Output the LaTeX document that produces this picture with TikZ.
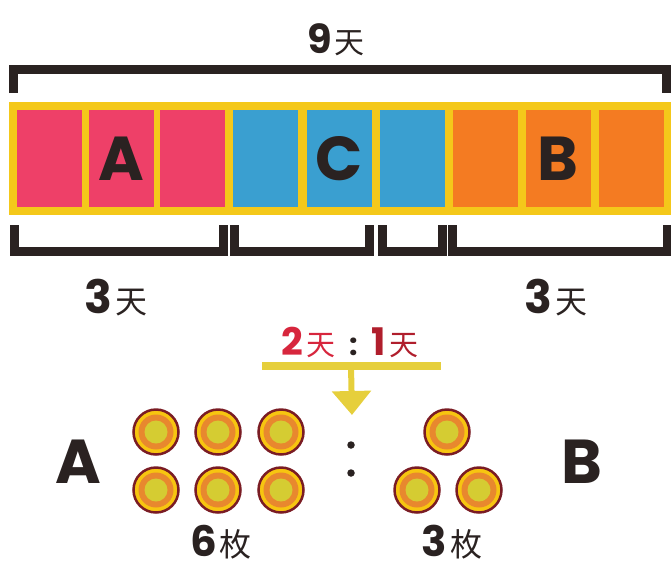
\documentclass[tikz,border=0pt]{standalone}
\usepackage{fontspec}
\usetikzlibrary{arrows.meta}
\setmainfont{Poppins}
\newfontfamily\cjk{Noto Sans CJK SC}

\definecolor{pinkcell}{HTML}{EE4068}
\definecolor{bluecell}{HTML}{3A9FD0}
\definecolor{orangecell}{HTML}{F47B22}
\definecolor{stripyellow}{HTML}{F4C81A}
\definecolor{inkdark}{HTML}{2A2221}
\definecolor{tianred}{HTML}{D7263D}
\definecolor{tiandark}{HTML}{B01E2C}
\definecolor{arrowyellow}{HTML}{E6CF3C}
\definecolor{coinbrown}{HTML}{7A1C24}
\definecolor{coinyellow}{HTML}{F7C510}
\definecolor{coinorange}{HTML}{E8882E}
\definecolor{coingreen}{HTML}{D5CC32}

\newcommand\numsz[1]{\fontsize{#1}{#1}\selectfont\bfseries}
\newcommand\cjksz[1]{\cjk\mdseries\fontsize{#1}{#1}\selectfont}

\begin{document}
\begin{tikzpicture}[x=1pt, y=-1pt,
        cell/.style={
        inner sep=0pt, minimum width=65pt, minimum height=97pt,
        font=\numsz{62}, text=inkdark},
        coin/.style={
        circle, draw=coinbrown, line width=2.5pt,
        fill=coinyellow, inner sep=0pt, minimum size=45pt,
        path picture={
          \fill[coinorange] (path picture bounding box.center) circle (17.5pt);
          \fill[coingreen] (path picture bounding box.center) circle (11.5pt);}},
        bracket/.style={draw=inkdark, line width=9pt, line join=miter},
        dot/.style={circle, fill=inkdark, inner sep=0pt, minimum size=7.5pt},
        label/.style={text=inkdark, inner sep=0pt},
        ]
        \useasboundingbox (0,0) rectangle (671,570);

        % total
        \node (total) [label] at (336,40) {\numsz{40}9\hspace{3pt}\cjksz{30}天};
        \draw[bracket] (13,93) -- (13,69.5) -- (666,69.5) -- (666,93);

        % strip of days
        \fill[stripyellow] (9,102) rectangle (671,215);
        \node (a1) [cell, fill=pinkcell]   at (49,158.5){};
        \node (a2) [cell, fill=pinkcell]   at (121,158.5){A};
        \node (a3) [cell, fill=pinkcell]   at (192,158.5){};
        \node (c1) [cell, fill=bluecell]   at (265.5,158.5){};
        \node (c2) [cell, fill=bluecell]   at (339,158.5){C};
        \node (c3) [cell, fill=bluecell]   at (412,158.5){};
        \node (b1) [cell, fill=orangecell] at (485.5,158.5){};
        \node (b2) [cell, fill=orangecell] at (558,158.5){B};
        \node (b3) [cell, fill=orangecell] at (631,158.5){};

        % parts
        \draw[bracket] (14,225) -- (14,251.5) -- (223,251.5) -- (223,225);
        \draw[bracket] (234,225) -- (234,251.5) -- (369,251.5) -- (369,225);
        \draw[bracket] (382,225) -- (382,251.5) -- (442,251.5) -- (442,225);
        \draw[bracket] (452,225) -- (452,251.5) -- (667,251.5) -- (667,225);
        \node (daysA) [label] at (116,298) {\numsz{46}3\hspace{3pt}\cjksz{32}天};
        \node (daysB) [label] at (556,298) {\numsz{46}3\hspace{3pt}\cjksz{32}天};

        % ratio
        \node (ratio) [label] at (350,342) {\textcolor{tianred}{\numsz{38}2\hspace{3pt}\cjksz{29}天}\hspace{14pt}{\numsz{30}:}\hspace{14pt}\textcolor{tiandark}{\numsz{38}1\hspace{3pt}\cjksz{29}天}};
        \coordinate (split) at (351,366);
        \coordinate (tip) at (352,415);
        \draw[arrowyellow, line width=8pt] (262,366) -- (441,366);
        \draw[arrowyellow, line width=6pt, -{Triangle[width=38pt,length=24pt]}] (split) -- (tip);

        % coins
        \node (coinA1) [coin] at (156,432){};
        \node (coinA2) [coin] at (218,432){};
        \node (coinA3) [coin] at (281,432){};
        \node (coinA4) [coin] at (156,490){};
        \node (coinA5) [coin] at (218,490){};
        \node (coinA6) [coin] at (281,490){};
        \node (coinB1) [coin] at (447,432){};
        \node (coinB2) [coin] at (417,490){};
        \node (coinB3) [coin] at (479,490){};
        \node (dotU) [dot] at (351,445){};
        \node (dotL) [dot] at (351,473){};

        \node (nameA) [label, font=\numsz{62}] at (78,462) {A};
        \node (nameB) [label, font=\numsz{62}] at (582,462) {B};
        \node (coinsA) [label] at (221,542) {\numsz{42}6\hspace{3pt}\cjksz{32}枚};
        \node (coinsB) [label] at (452,542) {\numsz{42}3\hspace{3pt}\cjksz{32}枚};
    \end{tikzpicture}
\end{document}
